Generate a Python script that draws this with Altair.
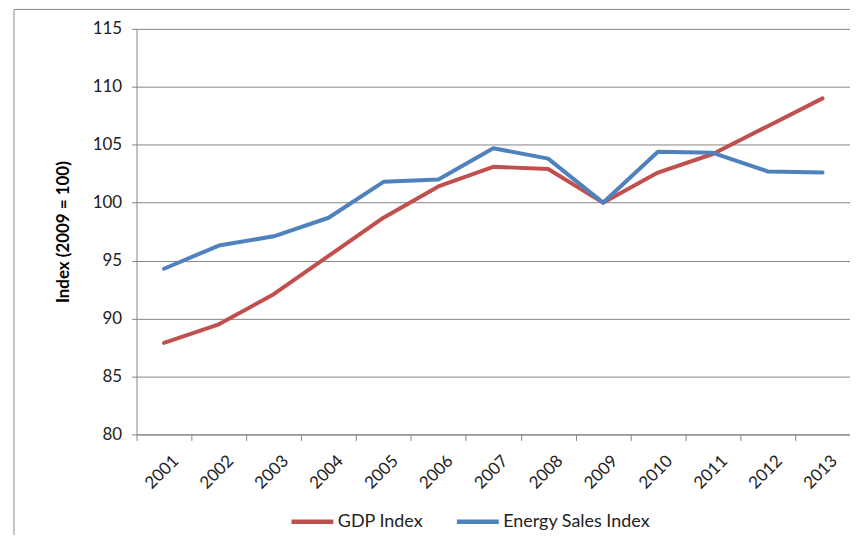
import altair as alt
import pandas as pd

years = ["2001", "2002", "2003", "2004", "2005", "2006", "2007",
         "2008", "2009", "2010", "2011", "2012", "2013"]
gdp_index = [87.9, 89.5, 92.1, 95.4, 98.7, 101.4, 103.1, 102.9, 100.0, 102.6, 104.2, 106.6, 109.0]
energy_index = [94.3, 96.3, 97.1, 98.7, 101.8, 102.0, 104.7, 103.8, 100.0, 104.4, 104.3, 102.7, 102.6]
series_names = ["GDP Index", "Energy Sales Index"]
series_colors = ["#C0504D", "#4F81BD"]
y_ticks = [80, 85, 90, 95, 100, 105, 110, 115]

rows = []
for i, y in enumerate(years):
    rows.append({"Year": y, "Series": series_names[0], "Value": gdp_index[i]})
    rows.append({"Year": y, "Series": series_names[1], "Value": energy_index[i]})
df = pd.DataFrame(rows)

FONT = "Lato"

border = alt.Chart(pd.DataFrame({"a": [0]})).mark_rect(
    fill=None, stroke="#8C8C8C", strokeWidth=1, clip=False
).encode(
    x=alt.value(-123), x2=alt.value(760),
    y=alt.value(-19.5), y2=alt.value(560),
)

lines = alt.Chart(df).mark_line(strokeWidth=4, strokeCap="round", strokeJoin="round").encode(
    x=alt.X("Year:N", sort=years, scale=alt.Scale(paddingInner=0, paddingOuter=0),
            axis=alt.Axis(title=None, labelAngle=-45, tickBand="extent", grid=False,
                          domainColor="#868686", tickColor="#868686", tickSize=6,
                          labelFont=FONT, labelFontSize=17, labelColor="#222222",
                          labelPadding=12, labelOffset=6)),
    y=alt.Y("Value:Q", scale=alt.Scale(domain=[80, 115], nice=False, zero=False),
            axis=alt.Axis(title="Index (2009 = 100)", values=y_ticks, grid=True,
                          gridColor="#868686", gridWidth=1, domainColor="#868686",
                          tickColor="#868686", tickSize=5, labelPadding=10,
                          labelFont=FONT, labelFontSize=17, labelColor="#222222",
                          titleFont=FONT, titleFontSize=17, titleFontWeight="bold",
                          titleColor="#000000", titlePadding=20)),
    color=alt.Color("Series:N", scale=alt.Scale(domain=series_names, range=series_colors),
                    sort=series_names,
                    legend=alt.Legend(title=None, orient="none", legendX=153, legendY=471,
                                      direction="horizontal", symbolType="stroke",
                                      symbolSize=1764, symbolStrokeWidth=4.5,
                                      labelFont=FONT, labelFontSize=18, labelColor="#222222",
                                      columnPadding=24, labelOffset=2, padding=0)),
    order=alt.Order("Series:N"),
)

chart = alt.layer(border, lines).properties(
    width=716, height=407,
    padding={"left": 129, "top": 20, "right": 0, "bottom": 100},
    autosize=alt.AutoSizeParams(type="none"),
    background="white",
).configure_view(stroke=None)

chart.save("out.html", embed_options={"renderer": "svg", "actions": False})
